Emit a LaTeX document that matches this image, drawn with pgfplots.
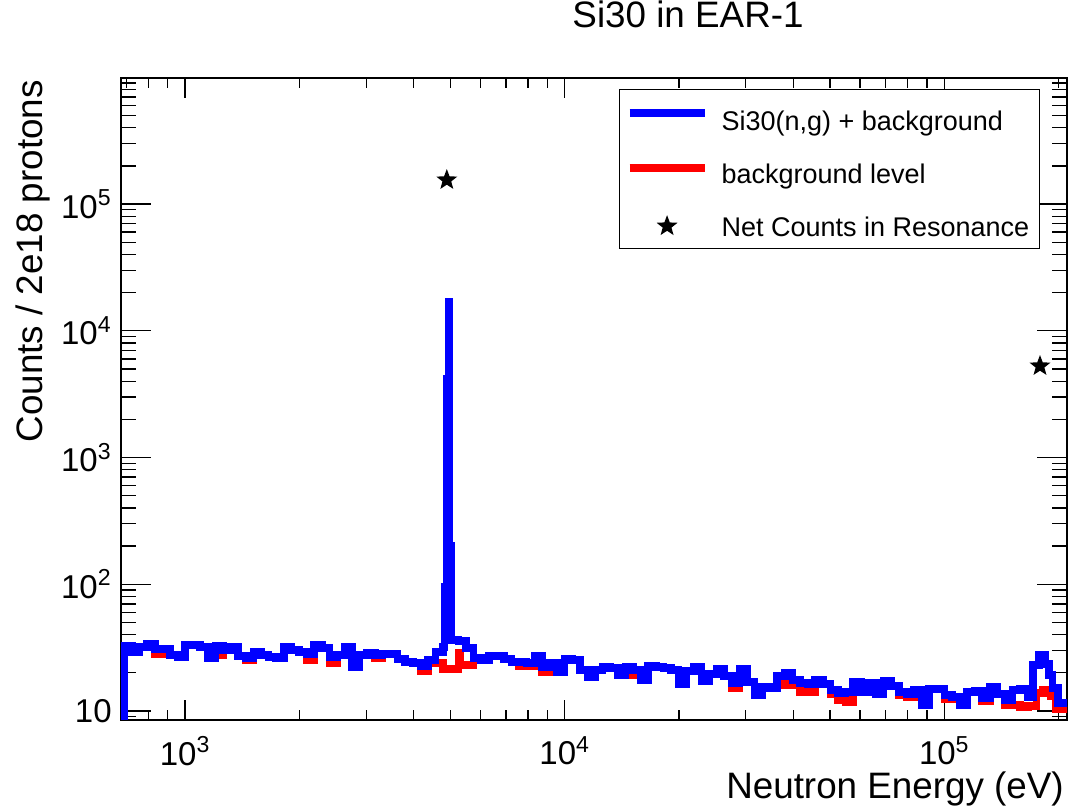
\documentclass[border=0pt]{standalone}
\usepackage{pgfplots}
\pgfplotsset{compat=1.18}
\usepackage{fontspec}
\setmainfont{Liberation Sans}

\pgfdeclareplotmark{fstar}{%
  \pgfpathmoveto{\pgfpointpolar{90}{\pgfplotmarksize}}%
  \pgfpathlineto{\pgfpointpolar{126}{0.42\pgfplotmarksize}}%
  \pgfpathlineto{\pgfpointpolar{162}{\pgfplotmarksize}}%
  \pgfpathlineto{\pgfpointpolar{198}{0.42\pgfplotmarksize}}%
  \pgfpathlineto{\pgfpointpolar{234}{\pgfplotmarksize}}%
  \pgfpathlineto{\pgfpointpolar{270}{0.42\pgfplotmarksize}}%
  \pgfpathlineto{\pgfpointpolar{306}{\pgfplotmarksize}}%
  \pgfpathlineto{\pgfpointpolar{342}{0.42\pgfplotmarksize}}%
  \pgfpathlineto{\pgfpointpolar{18}{\pgfplotmarksize}}%
  \pgfpathlineto{\pgfpointpolar{54}{0.42\pgfplotmarksize}}%
  \pgfpathclose
  \pgfusepathqfill}

\pgfplotsset{
  bluelegend/.style={legend image code/.code={%
    \path[draw=none,fill=none] (0pt,0pt) rectangle (37.5pt,9.7pt);
    \draw[##1,overlay] plot coordinates {(0pt,4pt) (37.5pt,4pt)};}},
  redlegend/.style={legend image code/.code={%
    \path[draw=none,fill=none] (0pt,0pt) rectangle (37.5pt,9.7pt);
    \draw[##1,overlay] plot coordinates {(0pt,3pt) (37.5pt,3pt)};}},
  starlegend/.style={legend image code/.code={%
    \path[draw=none,fill=none] (0pt,0pt) rectangle (37.5pt,9.7pt);
    \draw[##1,overlay] plot coordinates {(18.75pt,0.5pt)};}},
}

\begin{document}
\begin{tikzpicture}
\path[use as bounding box] (-60.5pt,-43.5pt) rectangle (478pt,360pt);
\begin{axis}[
  at={(0pt,0pt)}, anchor=south west,
  scale only axis, width=473pt, height=321pt,
  xmode=log, ymode=log,
  xmin=678, xmax=210500, ymin=8.49, ymax=9.87e5,
  axis line style={line width=0.65pt},
  tick align=inside,
  every tick/.style={black, line width=0.65pt},
  xtick style={/pgfplots/major tick length=10pt,/pgfplots/minor tick length=5pt},
  ytick style={/pgfplots/major tick length=15pt,/pgfplots/minor tick length=7.5pt},
  xtick={1000,10000,100000},
  xticklabels={10\textsuperscript{3},10\textsuperscript{4},10\textsuperscript{5}},
  minor xtick={700,800,900,2000,3000,4000,5000,6000,7000,8000,9000,20000,30000,40000,50000,60000,70000,80000,90000,200000},
  ytick={10,100,1000,10000,100000},
  yticklabels={10,10\textsuperscript{2},10\textsuperscript{3},10\textsuperscript{4},10\textsuperscript{5}},
  minor ytick={9,20,30,40,50,60,70,80,90,200,300,400,500,600,700,800,900,2000,3000,4000,5000,6000,7000,8000,9000,20000,30000,40000,50000,60000,70000,80000,90000,200000,300000,400000,500000,600000,700000,800000,900000},
  ticklabel style={font=\fontsize{16.5pt}{19pt}\selectfont},
  xticklabel style={inner sep=0pt, text depth=0pt, yshift=-8pt},
  yticklabel style={inner sep=0pt, xshift=-4.5pt},
  label style={font=\fontsize{18.4pt}{22pt}\selectfont},
  xlabel={Neutron Energy (eV)},
  xlabel style={at={(axis description cs:0.997,-0.122)}, anchor=base east, inner sep=0pt},
  ylabel={Counts / 2e18 protons},
  ylabel style={at={(axis description cs:-0.0835,0.997)}, anchor=base east, inner sep=0pt},
  title={Si30 in EAR-1},
  title style={at={(axis description cs:0.5994,1.0592)}, anchor=base, inner sep=0pt, font=\fontsize{18.4pt}{22pt}\selectfont},
  legend cell align=left,
  legend style={at={(axis description cs:0.5264,0.9829)}, anchor=north west,
    draw=black, line width=0.6pt, fill=white,
    inner xsep=5pt, inner ysep=6pt, row sep=12pt, column sep=8.5pt,
    font=\fontsize{13.5pt}{16pt}\selectfont,
    nodes={inner sep=0pt, text height=9.7pt, text depth=0pt}},
]
% background level (drawn first, below)
\addplot[red, line width=3.8pt, const plot, forget plot] coordinates {
(650,1) (691.8,32.6) (724.4,29.2) (758.6,32.0) (794.3,33.8) (831.8,28.2) (871.0,28.2)
(912.0,27.7) (955.0,26.7) (1000,33.2) (1047,33.2) (1096,32.0) (1148,26.2) (1202,27.7)
(1259,30.3) (1318,32.0) (1380,27.2) (1445,25.3) (1514,29.2) (1585,27.7) (1660,26.7)
(1738,26.2) (1820,32.0) (1905,30.3) (1995,29.2) (2089,25.3) (2188,33.2) (2291,31.4)
(2399,23.9) (2512,27.7) (2630,32.0) (2754,22.2) (2884,27.7) (3020,28.7) (3162,26.2)
(3311,28.2) (3467,28.2) (3631,25.7) (3802,24.4) (3981,23.9) (4169,20.7) (4365,24.4)
(4571,23.9) (4786,21.5) (5248,29.0) (5300,23.1) (5754,25.3) (6026,25.3) (6310,27.2)
(6607,27.2) (6918,25.7) (7244,24.4) (7586,22.7) (7943,22.7) (8318,27.2) (8710,20.3)
(9120,23.9) (9550,20.3) (10000,25.7) (10470,25.3) (10960,21.1) (11480,18.6) (12020,21.1)
(12590,22.2) (13180,21.8) (13800,19.2) (14450,19.2) (15140,21.1) (15850,17.6) (16600,22.7)
(17380,22.2) (18200,21.8) (19050,21.1) (19950,16.3) (20890,20.7) (21880,22.2) (22910,17.2)
(23990,19.6) (25120,21.5) (26300,18.9) (27540,15.2) (28840,21.5) (30200,16.9) (31620,13.4)
(33110,15.5) (34670,15.2) (36310,18.9) (38020,16.0) (39810,16.6) (41690,14.1) (43650,14.1)
(45710,17.6) (47860,16.3) (50120,13.6) (52480,12.2) (54950,11.8) (57540,16.9) (60260,14.1)
(63100,16.6) (66070,13.6) (69180,17.2) (72440,15.8) (75860,13.4) (79430,12.9) (83180,14.6)
(87100,11.2) (91200,14.9) (95500,14.9) (100000,12.4) (104700,12.9) (109600,11.2) (114800,14.1)
(120200,14.4) (125900,12.0) (131800,15.5) (138000,13.6) (144500,11.2) (151400,11.2) (158500,10.8)
(166000,11.0) (175000,13.9) (182000,14.6) (190500,13.1) (197200,10.3) (212000,10.3)
};
% signal + background
\addplot[blue, line width=3.8pt, const plot, forget plot] coordinates {
(650,1) (691.8,32.6) (724.4,29.2) (758.6,32.0) (794.3,33.8) (831.8,30.9) (871.0,30.9)
(912.0,27.7) (955.0,26.7) (1000,33.2) (1047,33.2) (1096,32.0) (1148,26.2) (1202,32.6)
(1259,30.3) (1318,32.0) (1380,27.2) (1445,26.2) (1514,29.2) (1585,27.7) (1660,26.7)
(1738,26.2) (1820,32.0) (1905,30.3) (1995,29.2) (2089,28.2) (2188,33.2) (2291,31.4)
(2399,26.7) (2512,27.7) (2630,32.0) (2754,22.2) (2884,27.7) (3020,28.7) (3162,27.7)
(3311,28.2) (3467,28.2) (3631,25.7) (3802,24.4) (3981,23.9) (4169,22.7) (4365,25.3)
(4571,29.2) (4786,32.0) (4826,95) (4885,4200) (4944,17000) (4974,200) (5030,36.3)
(5248,35.7) (5495,31.4) (5754,26.2) (6026,25.3) (6310,27.2) (6607,27.2) (6918,25.7)
(7244,24.4) (7586,24.4) (7943,23.9) (8318,27.2) (8710,22.2) (9120,23.9) (9550,20.3)
(10000,25.7) (10470,25.3) (10960,21.1) (11480,18.6) (12020,21.1) (12590,22.2) (13180,21.8)
(13800,19.2) (14450,22.2) (15140,21.1) (15850,17.6) (16600,22.7) (17380,22.2) (18200,21.8)
(19050,21.1) (19950,16.3) (20890,20.7) (21880,22.2) (22910,17.2) (23990,19.6) (25120,21.5)
(26300,18.9) (27540,16.6) (28840,21.5) (30200,16.9) (31620,13.4) (33110,15.5) (34670,15.2)
(36310,18.9) (38020,19.9) (39810,17.6) (41690,16.6) (43650,16.3) (45710,17.6) (47860,16.3)
(50120,14.6) (52480,13.9) (54950,14.1) (57540,16.9) (60260,14.1) (63100,16.6) (66070,13.6)
(69180,17.2) (72440,15.8) (75860,14.1) (79430,13.6) (83180,14.6) (87100,11.2) (91200,14.9)
(95500,14.9) (100000,13.4) (104700,12.9) (109600,11.2) (114800,14.1) (120200,14.4) (125900,12.7)
(131800,15.5) (138000,13.6) (144500,12.2) (151400,14.6) (158500,14.9) (166000,12.9) (171400,23.1)
(177800,27.7) (184100,23.5) (188400,19.2) (192800,15.2) (199500,11.6) (212000,11.6)
};
\addlegendimage{blue, line width=3.8pt, bluelegend}
\addlegendentry{Si30(n,g) + background}
\addlegendimage{red, line width=3.8pt, redlegend}
\addlegendentry{background level}
\addplot[only marks, mark=fstar, mark size=5.5pt, black, starlegend] coordinates {
(4892,154600) (178700,5265)
};
\addlegendentry{Net Counts in Resonance}
\end{axis}
\end{tikzpicture}
\end{document}
